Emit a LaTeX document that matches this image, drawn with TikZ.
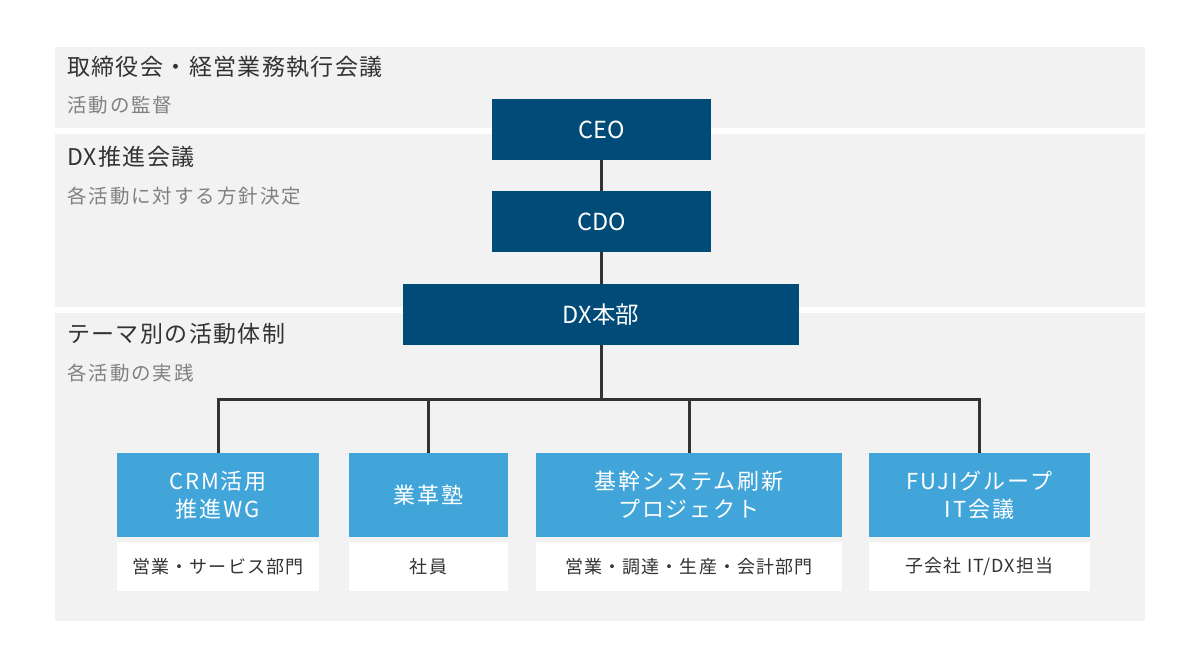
\documentclass[tikz,border=0pt]{standalone}
\usepackage{fontspec}
\setmainfont{Noto Sans CJK JP}
\definecolor{bandgray}{HTML}{F2F2F2}
\definecolor{navy}{HTML}{004B78}
\definecolor{skyblue}{HTML}{41A5DA}
\definecolor{textdark}{HTML}{333333}
\definecolor{textgray}{HTML}{808080}
\definecolor{linedark}{HTML}{333333}
\tikzset{
  band/.style={fill=bandgray, draw=none},
  bandtitle/.style={anchor=base west, inner sep=0pt, text=textdark,
    font=\fontsize{23}{27}\selectfont\addfontfeatures{LetterSpace=6}},
  bandsub/.style={anchor=base west, inner sep=0pt, text=textgray,
    font=\fontsize{19.5}{23}\selectfont\addfontfeatures{LetterSpace=10}},
  navybox/.style={fill=navy, text=white, minimum height=61pt, inner sep=0pt,
    font=\fontsize{23.5}{28}\selectfont},
  bluebox/.style={fill=skyblue, text=white, minimum height=84pt, inner sep=0pt,
    align=center, font=\fontsize{22}{28}\selectfont\addfontfeatures{LetterSpace=9}},
  whitebox/.style={fill=white, text=textdark, minimum height=49pt, inner sep=0pt,
    font=\fontsize{18}{22}\selectfont\addfontfeatures{LetterSpace=6}},
  conn/.style={draw=linedark, line width=3pt, line join=miter}
}
\begin{document}
\begin{tikzpicture}[x=1pt,y=-1pt]
\useasboundingbox (0,0) rectangle (1200,667);
\fill[white] (0,0) rectangle (1200,667);
% bands
\fill[band] (55,47) rectangle (1145,128);
\fill[band] (55,134) rectangle (1145,307);
\fill[band] (55,313) rectangle (1145,621);
% band labels
\node[bandtitle] (t1) at (67,75.5) {取締役会・経営業務執行会議};
\node[bandsub] (s1) at (67,112.5) {活動の監督};
\node[bandtitle] (t2) at (67,165) {DX推進会議};
\node[bandsub] (s2) at (67,203) {各活動に対する方針決定};
\node[bandtitle] (t3) at (67,342) {テーマ別の活動体制};
\node[bandsub] (s3) at (67,380.5) {各活動の実践};
% top chain
\node[navybox, minimum width=219pt] (ceo) at (601.5,129.5) {CEO};
\node[navybox, minimum width=219pt] (cdo) at (601.5,221.5) {CDO};
\node[navybox, minimum width=396pt] (dx) at (601,314.5) {DX本部};
% blue boxes
\node[bluebox, minimum width=202pt] (crm) at (218,495) {CRM活用\\推進WG};
\node[bluebox, minimum width=159pt] (gk) at (428.5,495) {業革塾};
\node[bluebox, minimum width=306pt] (kikan) at (689,495) {基幹システム刷新\\プロジェクト};
\node[bluebox, minimum width=221pt] (fuji) at (979.5,495) {FUJIグループ\\IT会議};
% white boxes
\node[whitebox, minimum width=202pt] (crmw) at (218,566.5) {営業・サービス部門};
\node[whitebox, minimum width=159pt] (gkw) at (428.5,566.5) {社員};
\node[whitebox, minimum width=306pt] (kikanw) at (689,566.5) {営業・調達・生産・会計部門};
\node[whitebox, minimum width=221pt] (fujiw) at (979.5,566.5) {子会社 IT/DX担当};
% connectors
\coordinate (bus) at (601,399);
\draw[conn] (ceo.south -| bus) -- (cdo.north -| bus);
\draw[conn] (cdo.south -| bus) -- (dx.north -| bus);
\draw[conn] (dx.south -| bus) -- (bus);
\draw[conn] (crm.north) |- (bus) -| (fuji.north);
\draw[conn] (gk.north) -- (gk.north |- bus);
\draw[conn] (kikan.north) -- (kikan.north |- bus);
\end{tikzpicture}
\end{document}
